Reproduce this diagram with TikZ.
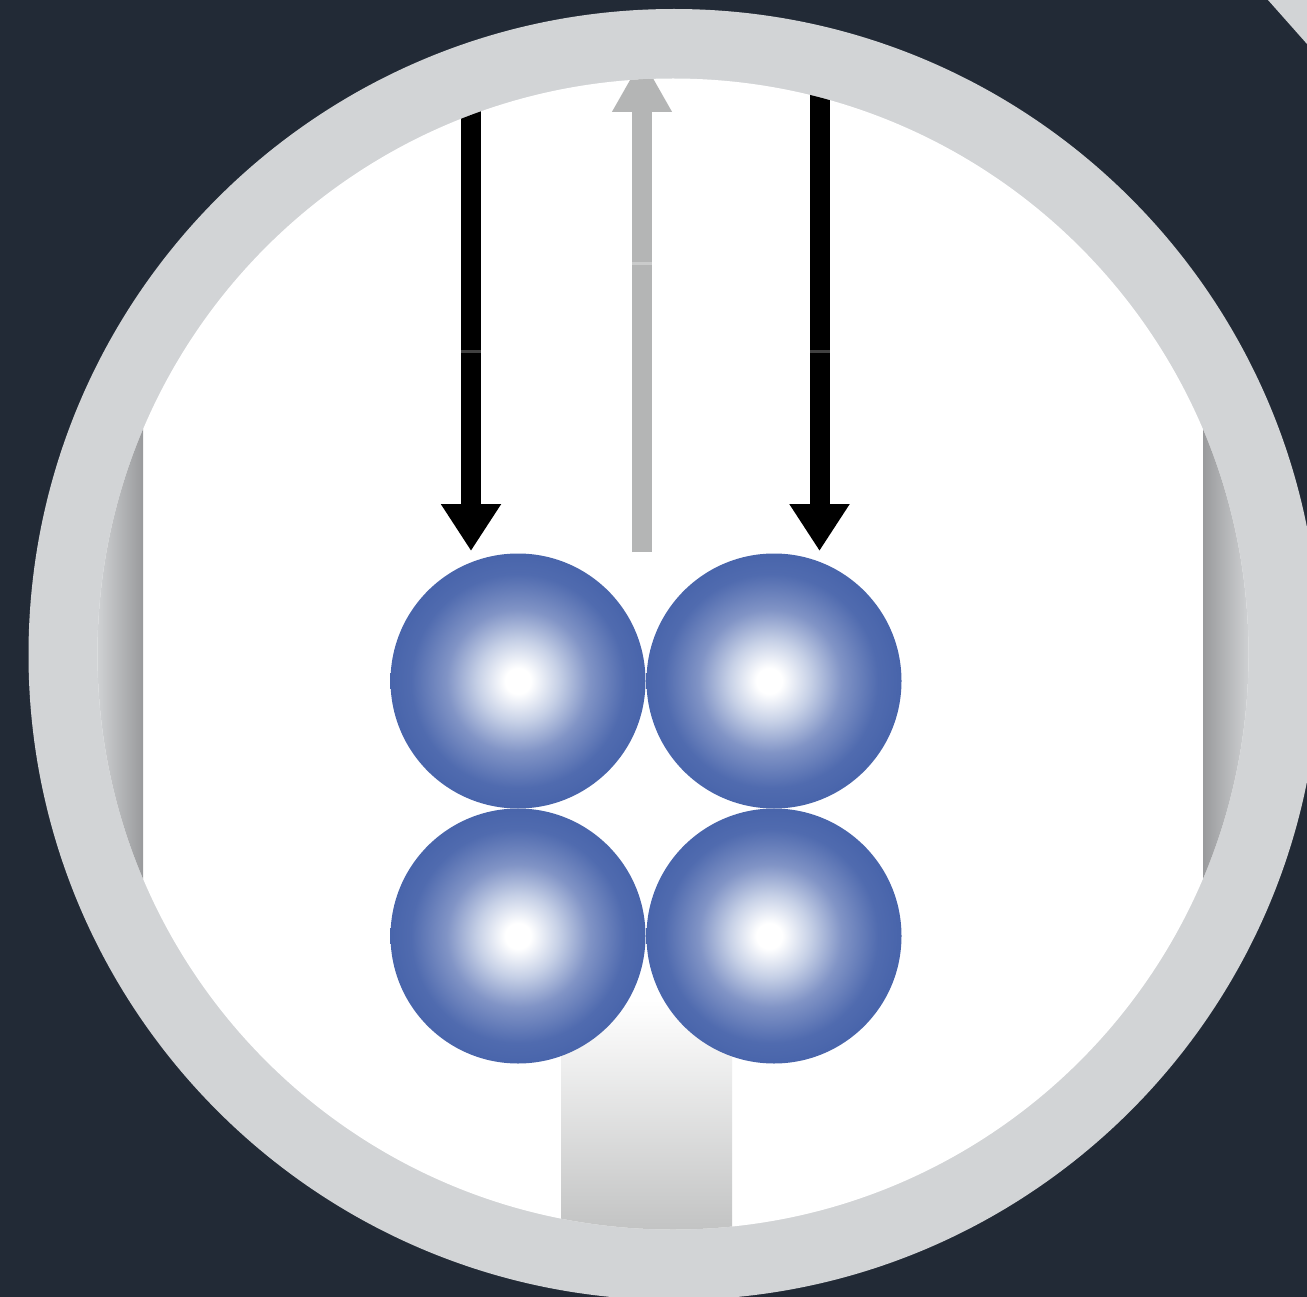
\documentclass[tikz,border=0pt]{standalone}
\usetikzlibrary{arrows.meta}
\definecolor{slatebg}{HTML}{222A36}
\definecolor{ringgrey}{HTML}{D2D4D6}
\definecolor{sidegrey}{HTML}{999A9C}
\definecolor{ballblue}{HTML}{4360A8}
\definecolor{ballmid}{HTML}{8194C6}
\definecolor{balllight}{HTML}{C6D0E6}
\definecolor{ballouter}{HTML}{506BAF}
\definecolor{arrowgrey}{HTML}{B4B5B5}
\definecolor{stembot}{HTML}{C2C3C3}
% Sphere shading: bright core fading into the blue rim
\pgfdeclareradialshading{ballcentred}{\pgfpoint{0bp}{0bp}}{%
  color(0bp)=(white);color(2.5bp)=(white);color(8bp)=(balllight);
  color(14bp)=(ballmid);color(21bp)=(ballouter);color(28bp)=(ballblue);color(50bp)=(ballblue)}
\pgfdeclareradialshading{ballleftish}{\pgfpoint{-1bp}{0bp}}{%
  color(0bp)=(white);color(2.5bp)=(white);color(8bp)=(balllight);
  color(14bp)=(ballmid);color(21bp)=(ballouter);color(28bp)=(ballblue);color(50bp)=(ballblue)}
\tikzset{
  x=1pt,y=-1pt,
  ball/.style={circle,inner sep=0pt,outer sep=0pt,minimum size=255pt,shading=#1},
  flow/.style={line width=20pt,-{Triangle[length=47pt,width=57pt]}},
  backflow/.style={line width=20pt,arrowgrey,-{Triangle[length=54pt,width=56pt]}},
}
\begin{document}
\begin{tikzpicture}
\useasboundingbox (0,0) rectangle (1307,1297);
\fill[slatebg] (0,0) rectangle (1307,1297);
% Corner of the neighbouring ring
\fill[ringgrey] (1268,0) -- (1307,44) -- (1307,0) -- cycle;
% Ring
\fill[ringgrey] (674,654.5) circle[radius=645.5];
\begin{scope}
  \clip (673,654) circle[radius=575.5];
  \fill[white] (0,0) rectangle (1307,1297);
  % Shaded walls
  \shade[left color=ringgrey,right color=sidegrey] (95,400) rectangle (143,900);
  \shade[left color=sidegrey,right color=ringgrey] (1203,400) rectangle (1251,900);
  % Stem below the spheres
  \shade[top color=white,bottom color=stembot] (561,1000) rectangle (732,1232);
  % Spheres
  \node[ball=ballcentred] (tl) at (518,681) {};
  \node[ball=ballleftish] (tr) at (774,681) {};
  \node[ball=ballcentred] (bl) at (518,936) {};
  \node[ball=ballleftish] (br) at (774,936) {};
  % Flow arrows
  \coordinate (inL) at (471,60);
  \coordinate (inLtip) at (471,551);
  \coordinate (inR) at (819.5,60);
  \coordinate (inRtip) at (819.5,551);
  \coordinate (outS) at (642,552);
  \coordinate (outE) at (642,58);
  \draw[flow] (inL) -- (inLtip);
  \draw[flow] (inR) -- (inRtip);
  \draw[backflow] (outS) -- (outE);
  % Faint joints along the shafts
  \fill[black!75] (461,350) rectangle (481,353);
  \fill[black!75] (809.5,350) rectangle (829.5,353);
  \fill[arrowgrey!70!white] (632,262) rectangle (652,265);
\end{scope}
\end{tikzpicture}
\end{document}
